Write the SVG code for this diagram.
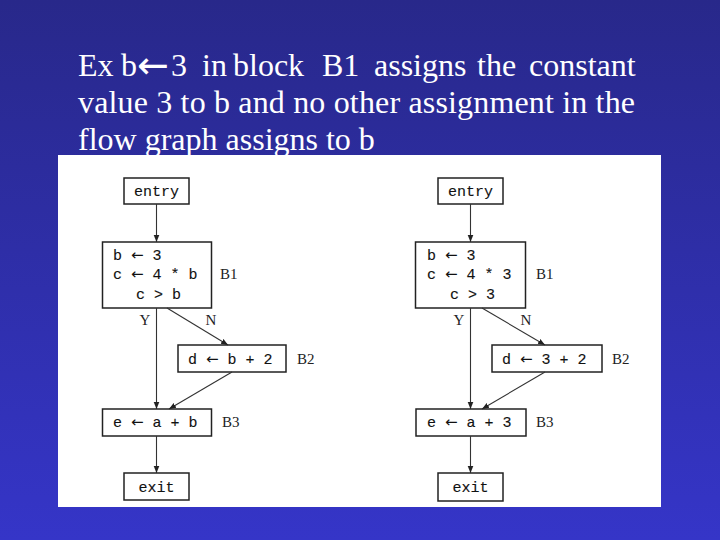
<svg xmlns="http://www.w3.org/2000/svg" width="720" height="540" viewBox="0 0 720 540">
<defs>
<linearGradient id="bg" x1="0" y1="0" x2="0" y2="1">
<stop offset="0" stop-color="#28288a"/>
<stop offset="1" stop-color="#3535c8"/>
</linearGradient>
<marker id="ah" viewBox="0 0 10 10" refX="10" refY="5" markerWidth="7" markerHeight="7" markerUnits="userSpaceOnUse" orient="auto">
<path d="M0,1 L10,5 L0,9 Z" fill="#222"/>
</marker>
<style>
.title{font-family:"Liberation Serif","Times New Roman",serif;font-size:32px;fill:#fff}
.arr{font-family:"DejaVu Sans",sans-serif;font-size:38px}
.box{fill:#fff;stroke:#222;stroke-width:1.5}
.code{font-family:"Liberation Mono","DejaVu Sans Mono",monospace;font-size:15px;fill:#111;stroke:#111;stroke-width:0.12}
.ca{font-family:"DejaVu Sans",sans-serif;stroke-width:0}
.lbl{font-family:"Liberation Serif","DejaVu Serif",serif;font-size:15px;fill:#222}
.conn line{stroke:#333;stroke-width:1.1;marker-end:url(#ah)}
</style>
</defs>
<rect width="720" height="540" fill="url(#bg)"/>
<g id="title">
<text class="title" y="76"><tspan x="78">Ex</tspan><tspan x="121">b</tspan><tspan class="arr" x="137" y="78">←</tspan><tspan x="171" y="76">3</tspan><tspan x="202">in</tspan><tspan x="233">block</tspan><tspan x="322">B1</tspan><tspan x="374">assigns</tspan><tspan x="477">the</tspan><tspan x="529">constant</tspan></text>
<text class="title" x="78" y="113" textLength="557" lengthAdjust="spacing">value 3 to b and no other assignment in the</text>
<text class="title" x="78" y="150">flow graph assigns to b</text>
</g>
<rect x="58" y="155" width="603" height="352" fill="#fff"/>

<!-- Left graph -->
<g id="L-entry"><rect class="box" x="124" y="178" width="65" height="26"/><text class="code" x="156.5" y="196" text-anchor="middle">entry</text></g>
<g id="L-B1"><rect class="box" x="102.5" y="242" width="109" height="66"/>
<text class="code" x="113" y="260">b <tspan class="ca">←</tspan> 3</text>
<text class="code" x="113" y="279">c <tspan class="ca">←</tspan> 4 * b</text>
<text class="code" x="136" y="299">c &gt; b</text>
<text class="lbl" x="220" y="279">B1</text></g>
<g id="L-B2"><rect class="box" x="178" y="345" width="108" height="27"/>
<text class="code" x="188" y="364">d <tspan class="ca">←</tspan> b + 2</text>
<text class="lbl" x="297" y="364">B2</text></g>
<g id="L-B3"><rect class="box" x="102.5" y="409" width="109" height="27"/>
<text class="code" x="113" y="427">e <tspan class="ca">←</tspan> a + b</text>
<text class="lbl" x="222" y="427">B3</text></g>
<g id="L-exit"><rect class="box" x="124" y="473" width="65" height="27"/><text class="code" x="156.5" y="492" text-anchor="middle">exit</text></g>

<!-- Right graph -->
<g id="R-entry"><rect class="box" x="438" y="178" width="65" height="26"/><text class="code" x="470.5" y="196" text-anchor="middle">entry</text></g>
<g id="R-B1"><rect class="box" x="415.5" y="242" width="110" height="66"/>
<text class="code" x="427" y="260">b <tspan class="ca">←</tspan> 3</text>
<text class="code" x="427" y="279">c <tspan class="ca">←</tspan> 4 * 3</text>
<text class="code" x="450" y="299">c &gt; 3</text>
<text class="lbl" x="536" y="279">B1</text></g>
<g id="R-B2"><rect class="box" x="492" y="345" width="110" height="27"/>
<text class="code" x="502" y="364">d <tspan class="ca">←</tspan> 3 + 2</text>
<text class="lbl" x="612" y="364">B2</text></g>
<g id="R-B3"><rect class="box" x="416" y="409" width="110" height="27"/>
<text class="code" x="427" y="427">e <tspan class="ca">←</tspan> a + 3</text>
<text class="lbl" x="536" y="427">B3</text></g>
<g id="R-exit"><rect class="box" x="438" y="473" width="65" height="28"/><text class="code" x="470.5" y="492" text-anchor="middle">exit</text></g>

<g id="connectors" class="conn">
<line x1="156.5" y1="204" x2="156.5" y2="242"/>
<line x1="156.5" y1="308" x2="156.5" y2="409"/>
<line x1="167" y1="308" x2="228" y2="345"/>
<line x1="232" y1="372" x2="169" y2="409"/>
<line x1="156.5" y1="436" x2="156.5" y2="473"/>
<line x1="470.5" y1="204" x2="470.5" y2="242"/>
<line x1="470.5" y1="308" x2="470.5" y2="409"/>
<line x1="482" y1="308" x2="545" y2="345"/>
<line x1="545" y1="372" x2="482" y2="409"/>
<line x1="470.5" y1="436" x2="470.5" y2="473"/>
</g>
<g id="edge-labels">
<text class="lbl" x="145" y="325" text-anchor="middle">Y</text>
<text class="lbl" x="211" y="325" text-anchor="middle">N</text>
<text class="lbl" x="459" y="325" text-anchor="middle">Y</text>
<text class="lbl" x="526" y="325" text-anchor="middle">N</text>
</g>
</svg>
